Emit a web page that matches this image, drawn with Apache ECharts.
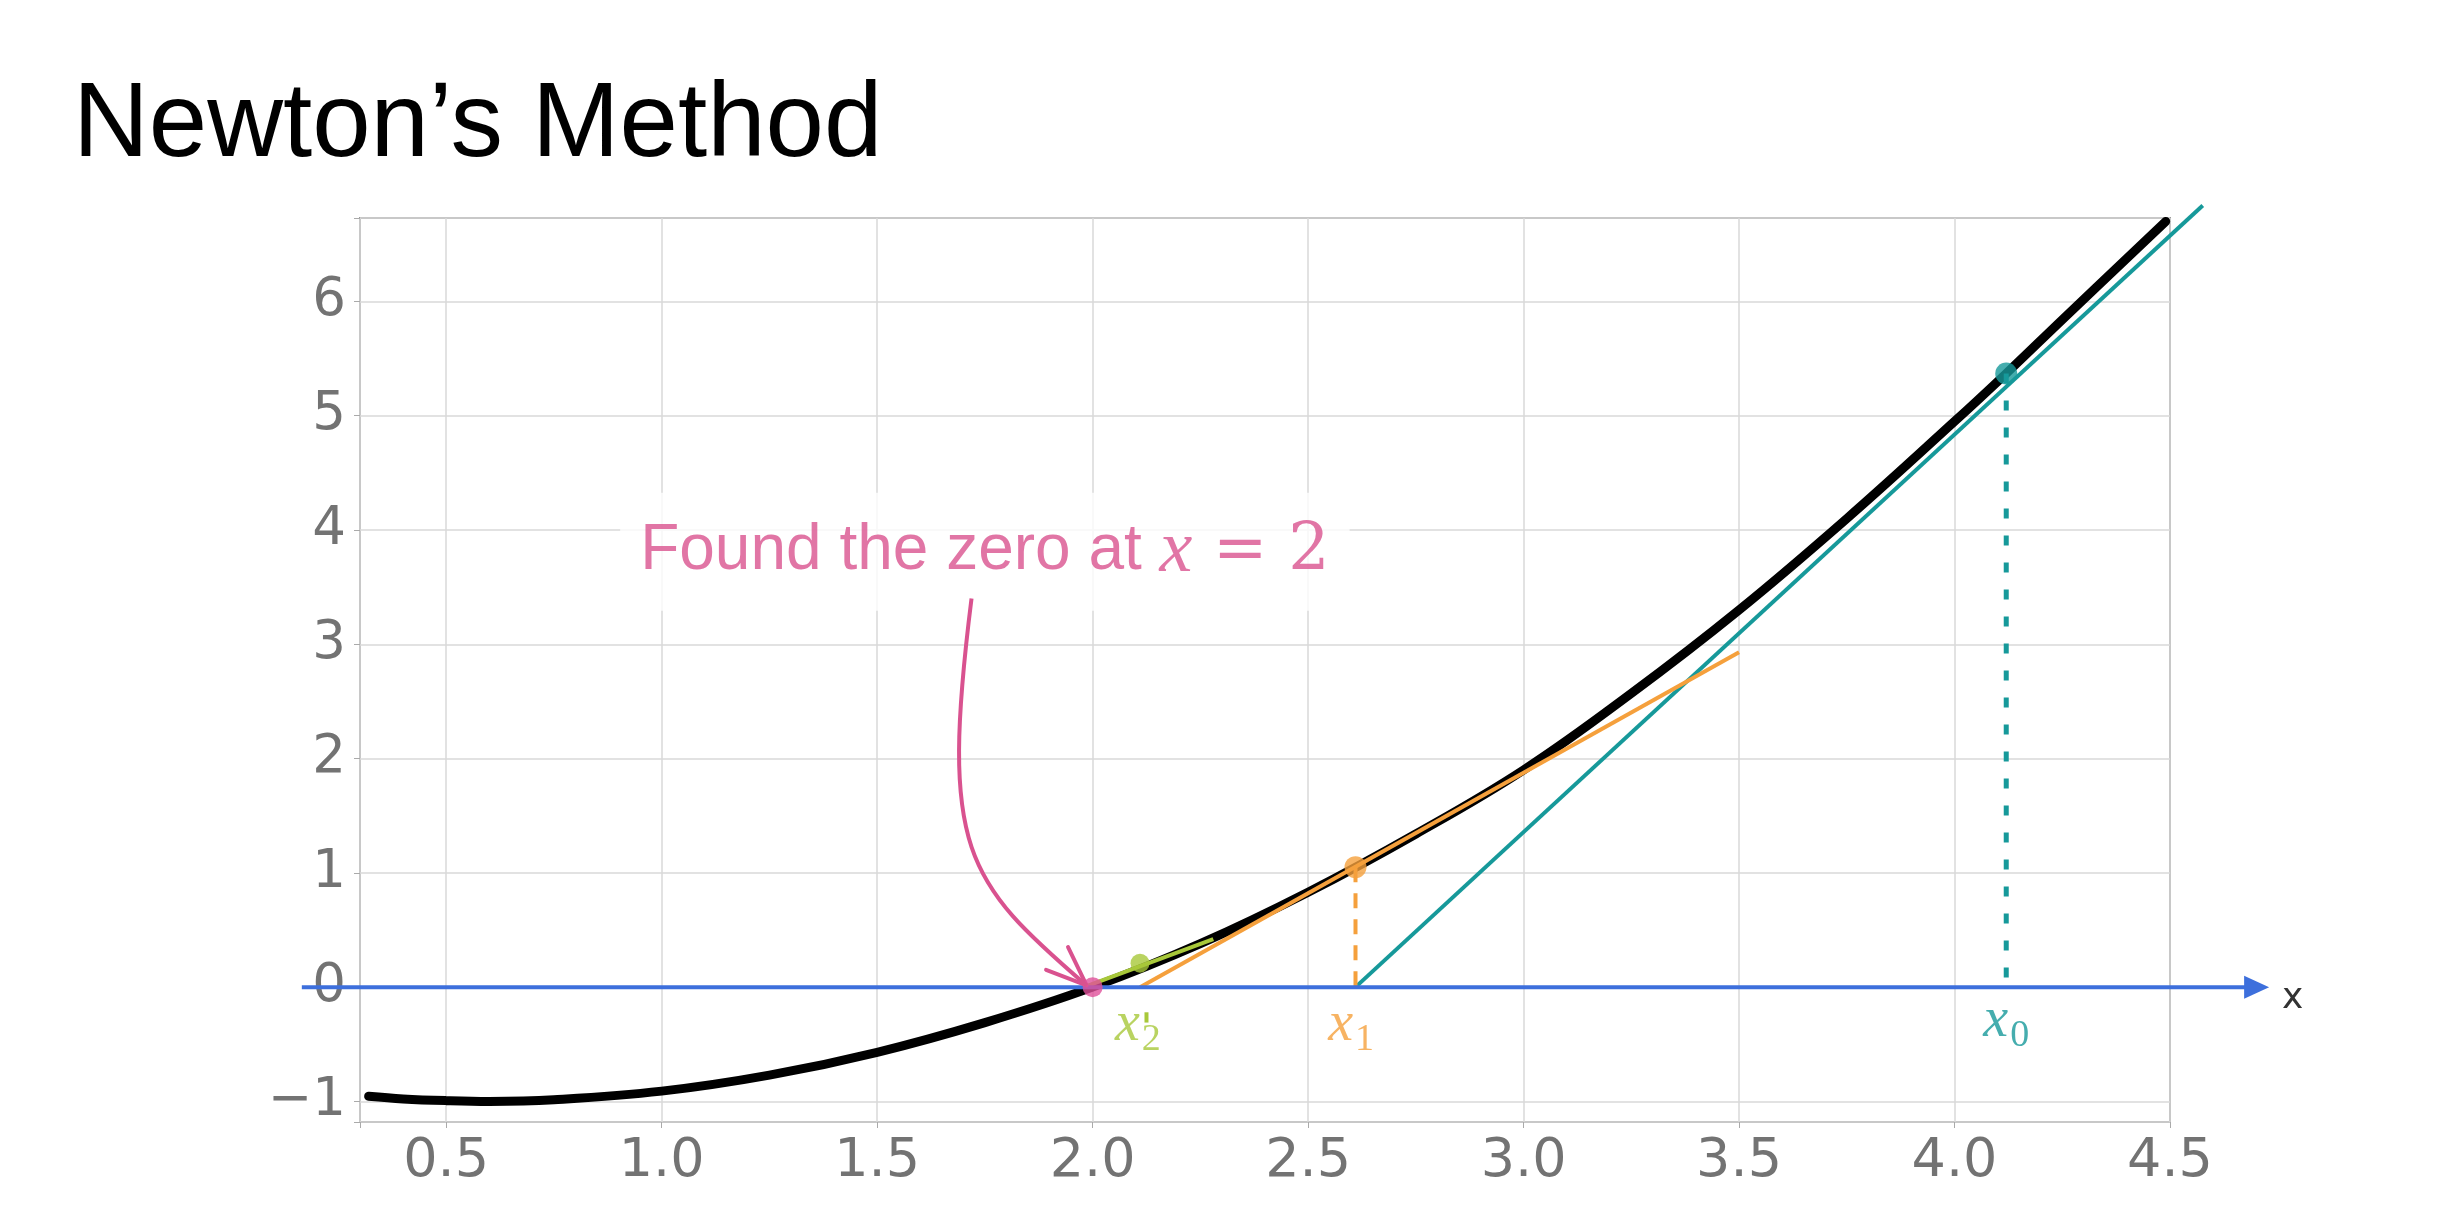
<!DOCTYPE html>
<html><head><meta charset="utf-8">
<script src="https://cdn.jsdelivr.net/npm/echarts@6/dist/echarts.min.js"></script>
<style>html,body{margin:0;padding:0;background:#fff}#c{width:2444px;height:1218px}</style>
</head><body><div id="c"></div>
<script>
// ---- data ----
const titleText = 'Newton’s Method';
const xTicks = [0.5, 1.0, 1.5, 2.0, 2.5, 3.0, 3.5, 4.0, 4.5];
const xTickLabels = ['0.5', '1.0', '1.5', '2.0', '2.5', '3.0', '3.5', '4.0', '4.5'];
const yTicks = [-1, 0, 1, 2, 3, 4, 5, 6];
const yTickLabels = ['−1', '0', '1', '2', '3', '4', '5', '6'];

const curveX = [0.32, 0.4, 0.5, 0.6, 0.75, 1.0, 1.25, 1.5, 1.75, 2.0, 2.25, 2.5, 2.75, 3.0, 3.25, 3.5, 3.75, 4.0, 4.12, 4.25, 4.49];
const curveY = [-0.955, -0.978, -0.993, -1.0, -0.985, -0.91, -0.77, -0.57, -0.31, 0.0, 0.38, 0.83, 1.34, 1.9, 2.57, 3.3, 4.1, 4.95, 5.37, 5.84, 6.7];

const iterNames = ['x0', 'x1', 'x2', 'root'];
const iterX = [4.12, 2.61, 2.11, 2.0];
const iterY = [5.37, 1.05, 0.21, 0.0];

const tangent0X = [2.61, 4.576], tangent0Y = [0, 6.84];
const tangent1X = [2.11, 3.5], tangent1Y = [0, 2.93];
const tangent2X = [1.98, 2.28], tangent2Y = [0, 0.42];

const drop0X = [4.12, 4.12], drop0Y = [5.37, 0];
const drop1X = [2.61, 2.61], drop1Y = [1.05, 0];
const drop2X = [2.125, 2.125], drop2Y = [-0.22, -0.31];

const axisArrowX = [0.165, 4.73], axisArrowY = [0, 0];
const axisName = 'x';

const iterLabelSubs = ['0', '1', '2'];
const iterLabelX = [4.12, 2.60, 2.105];
const iterLabelY = [-0.30, -0.33, -0.33];

const noteX = 1.75, noteY = 3.81;
const noteText = 'Found the zero at', noteVar = 'x', noteValue = '= 2';
const arrowStart = [1.719, 3.40], arrowCtrl1 = [1.6456, 1.197], arrowCtrl2 = [1.7037, 0.934], arrowEnd = [1.986, 0.015];
const arrowHeadX = [1.943, 1.986, 1.892];
const arrowHeadY = [0.350, 0.015, 0.152];

// ---- styles ----
const TEAL = '#16999a', ORANGE = '#f5a03c', GREEN = '#a8c83a', PINK = '#d9528f', PINKDOT = '#e0509a', BLUE = '#3d6fdc';
const iterColors = [TEAL, ORANGE, GREEN, PINKDOT];
const zip = (xs, ys) => xs.map((x, i) => [x, ys[i]]);
const pick = (ticks, labels) => v => { const i = ticks.findIndex(t => Math.abs(t - v) < 1e-6); return i < 0 ? '' : labels[i]; };

const lineSeries = (data, color, width, z, dash) => ({
  type: 'line', data, showSymbol: false, symbol: 'none', clip: false, z, silent: true,
  lineStyle: { color, width, type: dash || 'solid', cap: 'butt' }
});

const chart = echarts.init(document.getElementById('c'));
chart.setOption({
  animation: false,
  backgroundColor: '#fff',
  title: { text: titleText, left: 68, top: 70, textStyle: { fontFamily: 'Liberation Sans', fontSize: 105, fontWeight: 'normal', color: '#000' } },
  grid: { left: 360, right: 274, top: 218, bottom: 96, show: true, borderColor: '#999', borderWidth: 2, backgroundColor: 'transparent' },
  xAxis: {
    type: 'value', min: 0.3, max: 4.5, minInterval: 0.5, maxInterval: 0.5,
    axisLine: { show: false, onZero: false },
    axisTick: { show: true, length: 6, lineStyle: { color: '#aaa' } },
    splitLine: { show: true, lineStyle: { color: '#d8d8d8', width: 1.5 } },
    axisLabel: { formatter: pick(xTicks, xTickLabels), fontFamily: 'DejaVu Sans', fontSize: 54, color: '#737373', margin: 13 }
  },
  yAxis: {
    type: 'value', min: -1.18, max: 6.73, minInterval: 1, maxInterval: 1,
    axisLine: { show: false, onZero: false },
    axisTick: { show: true, length: 6, lineStyle: { color: '#aaa' } },
    splitLine: { show: true, lineStyle: { color: '#d8d8d8', width: 1.5 } },
    axisLabel: { formatter: pick(yTicks, yTickLabels), fontFamily: 'DejaVu Sans', fontSize: 53, color: '#737373', margin: 14 }
  },
  series: [
    Object.assign(lineSeries(zip(curveX, curveY), '#000', 9, 3), { smooth: 0.4, lineStyle: { color: '#000', width: 9, cap: 'round' } }),
    lineSeries(zip(tangent1X, tangent1Y), ORANGE, 4, 5),
    lineSeries(zip(tangent2X, tangent2Y), GREEN, 4, 5),
    lineSeries(zip(drop0X, drop0Y), TEAL, 5, 5, [10, 17]),
    lineSeries(zip(drop1X, drop1Y), ORANGE, 4, 5, [15, 11]),
    lineSeries(zip(drop2X, drop2Y), GREEN, 4, 5),
    Object.assign(lineSeries(zip(arrowHeadX, arrowHeadY), PINK, 4, 7), { lineStyle: { color: PINK, width: 4, join: 'round', cap: 'round' } }),
    {
      type: 'scatter', z: 8, silent: true, symbolSize: 22,
      data: iterX.map((x, i) => ({ name: iterNames[i], value: [x, iterY[i]], itemStyle: { color: iterColors[i] }, symbolSize: i === 3 ? 20 : (i === 2 ? 19 : 22) }))
    },
    {
      type: 'scatter', z: 9, silent: true, symbolSize: 1, itemStyle: { color: 'transparent' },
      data: iterLabelX.map((x, i) => ({ value: [x, iterLabelY[i]], label: { color: iterColors[i] } })),
      label: {
        show: true, position: 'inside', align: 'center', verticalAlign: 'middle',
        formatter: p => '{x|x}{s|' + iterLabelSubs[p.dataIndex] + '}',
        rich: {
          x: { fontFamily: 'Liberation Serif', fontStyle: 'italic', fontSize: 56 },
          s: { fontFamily: 'Liberation Serif', fontSize: 38, padding: [30, 0, 0, 2] }
        }
      }
    },
    {
      type: 'scatter', z: 9, silent: true, symbolSize: 1, itemStyle: { color: 'transparent' },
      data: [[noteX, noteY]],
      label: {
        show: true, position: 'inside', align: 'center', verticalAlign: 'middle',
        backgroundColor: '#fff', padding: [22, 20],
        formatter: '{a|' + noteText + ' }{m|' + noteVar + '}{e| ' + noteValue + '}',
        rich: {
          a: { fontFamily: 'Liberation Sans', fontSize: 64, color: PINK },
          m: { fontFamily: 'Liberation Serif', fontStyle: 'italic', fontSize: 74, color: PINK },
          e: { fontFamily: 'DejaVu Serif', fontSize: 65, color: PINK }
        }
      }
    }
  ]
});

// marks that reach outside the plot frame: placed through the chart's own scales
const px = v => chart.convertToPixel({ xAxisIndex: 0, yAxisIndex: 0 }, v);
const t0a = px([tangent0X[0], tangent0Y[0]]), t0b = px([tangent0X[1], tangent0Y[1]]);
const axA = px([axisArrowX[0], axisArrowY[0]]), axTip = px([axisArrowX[1], axisArrowY[1]]);
const ARROW_LEN = 25, ARROW_HALF = 11.5;
const aS = px(arrowStart), aC1 = px(arrowCtrl1), aC2 = px(arrowCtrl2), aE = px(arrowEnd);
chart.setOption({
  graphic: [
    { type: 'line', z: 4, silent: true, shape: { x1: t0a[0], y1: t0a[1], x2: t0b[0], y2: t0b[1] }, style: { stroke: TEAL, lineWidth: 4 } },
    { type: 'line', z: 6, silent: true, shape: { x1: axA[0], y1: axA[1], x2: axTip[0] - ARROW_LEN + 2, y2: axTip[1] }, style: { stroke: BLUE, lineWidth: 4 } },
    { type: 'polygon', z: 6, silent: true, shape: { points: [[axTip[0], axTip[1]], [axTip[0] - ARROW_LEN, axTip[1] - ARROW_HALF], [axTip[0] - ARROW_LEN, axTip[1] + ARROW_HALF]] }, style: { fill: BLUE } },
    { type: 'text', z: 6, silent: true, style: { text: axisName, x: axTip[0] + 13, y: axTip[1] + 11, fill: '#333', font: '36px "DejaVu Sans"', textVerticalAlign: 'middle' } },
    { type: 'bezierCurve', z: 12, silent: true, shape: { x1: aS[0], y1: aS[1], cpx1: aC1[0], cpy1: aC1[1], cpx2: aC2[0], cpy2: aC2[1], x2: aE[0], y2: aE[1] }, style: { stroke: PINK, lineWidth: 4, fill: null } }
  ]
});
</script></body></html>
